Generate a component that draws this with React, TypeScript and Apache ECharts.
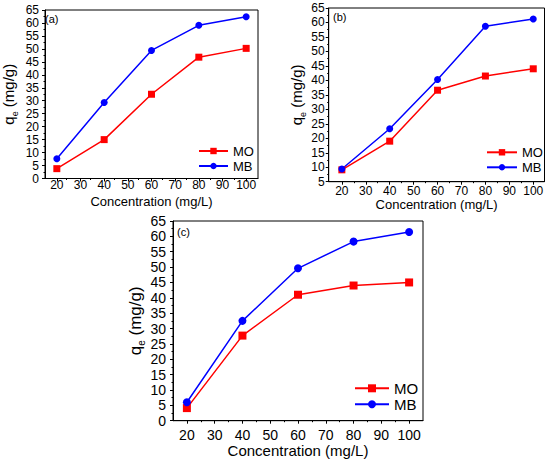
import React, { useEffect, useRef } from "react";
import * as echarts from "echarts";

const concentrations = [20, 40, 60, 80, 100];
const moA = [3.8, 15.0, 32.5, 46.8, 50.2];
const mbA = [7.6, 29.3, 49.4, 59.1, 62.4];
const moB = [9.1, 19.0, 36.6, 41.5, 44.0];
const mbB = [9.4, 23.3, 40.3, 58.7, 61.2];
const moC = [4.1, 27.7, 41.0, 44.0, 45.0];
const mbC = [6.0, 32.5, 49.6, 58.3, 61.4];
const xTickValues = [20, 30, 40, 50, 60, 70, 80, 90, 100];
const xMinorValues = [25, 35, 45, 55, 65, 75, 85, 95];
const panelLabels = ["(a)", "(b)", "(c)"];
const seriesNames = ["MO", "MB"];

const FONT = "Liberation Sans, Arial, sans-serif";
const RED = "#ff0000";
const BLUE = "#0000ff";

const pairs = (ys: number[]) => concentrations.map((x, i) => [x, ys[i]]);

const panels = [
  {
    grid: { left: 42, top: 10, width: 216, height: 168.5 },
    xMin: 15, xMax: 105, yMin: 0, yMax: 65,
    tickFont: 12, nameFont: 13, yNameFont: 15,
    xLabelMargin: 0, xNameGap: 16.5, yLabelMargin: 6, yNameGap: 26,
    legend: { left: 198, top: 144.5, itemWidth: 29, itemHeight: 8, fontSize: 13, itemGap: 2 },
    label: { x: 45, y: 18.5 },
    mo: moA, mb: mbA, sym: 7,
  },
  {
    grid: { left: 328.7, top: 8, width: 215.8, height: 173.7 },
    xMin: 14.5, xMax: 104.7, yMin: 5, yMax: 65,
    tickFont: 12, nameFont: 13, yNameFont: 15,
    xLabelMargin: 3, xNameGap: 12.5, yLabelMargin: 4, yNameGap: 20,
    legend: { left: 486, top: 145.8, itemWidth: 30, itemHeight: 8, fontSize: 13, itemGap: 2 },
    label: { x: 333, y: 17 },
    mo: moB, mb: mbB, sym: 7,
  },
  {
    grid: { left: 173, top: 221, width: 250, height: 199.7 },
    xMin: 15, xMax: 105, yMin: 0, yMax: 65,
    tickFont: 14, nameFont: 15, yNameFont: 17,
    xLabelMargin: 7, xNameGap: 17.5, yLabelMargin: 7, yNameGap: 25,
    legend: { left: 354, top: 380.8, itemWidth: 34, itemHeight: 10, fontSize: 15, itemGap: 1 },
    label: { x: 177, y: 232 },
    mo: moC, mb: mbC, sym: 8,
  },
];

function buildOption() {
  const grids: any[] = [];
  const xAxes: any[] = [];
  const yAxes: any[] = [];
  const series: any[] = [];
  const legends: any[] = [];
  const graphics: any[] = [];

  panels.forEach((p, i) => {
    grids.push({
      ...p.grid,
      show: true,
      borderColor: "#000",
      borderWidth: 1,
      backgroundColor: "transparent",
    });
    xAxes.push({
      type: "value",
      gridIndex: i,
      min: p.xMin,
      max: p.xMax,
      name: "Concentration (mg/L)",
      nameLocation: "middle",
      nameGap: p.xNameGap,
      nameTextStyle: { fontSize: p.nameFont, color: "#000", fontFamily: FONT },
      axisLine: { show: true, onZero: false, lineStyle: { color: "#000", width: 1 } },
      axisTick: { show: true, inside: false, length: 3, customValues: xTickValues, lineStyle: { color: "#000" } },
      axisLabel: { customValues: xTickValues, fontSize: p.tickFont, color: "#000", margin: p.xLabelMargin, fontFamily: FONT },
      splitLine: { show: false },
    });
    yAxes.push({
      type: "value",
      gridIndex: i,
      min: p.yMin,
      max: p.yMax,
      interval: 5,
      name: "{a|q}{b|e}{a| (mg/g)}",
      nameLocation: "middle",
      nameGap: p.yNameGap,
      nameTextStyle: {
        color: "#000",
        fontFamily: FONT,
        fontSize: p.yNameFont,
        rich: {
          a: { fontSize: p.yNameFont, lineHeight: p.yNameFont + 6, fontFamily: FONT, color: "#000" },
          b: { fontSize: Math.round(p.yNameFont * 0.6), lineHeight: Math.round(p.yNameFont * 0.6), verticalAlign: "bottom", fontFamily: FONT, color: "#000" },
        },
      },
      axisLine: { show: true, onZero: false, lineStyle: { color: "#000", width: 1 } },
      axisTick: { show: true, inside: false, length: 3, lineStyle: { color: "#000" } },
      minorTick: { show: true, splitNumber: 2, length: 1.5, lineStyle: { color: "#000" } },
      axisLabel: { fontSize: p.tickFont, color: "#000", margin: p.yLabelMargin, fontFamily: FONT },
      splitLine: { show: false },
      minorSplitLine: { show: false },
    });
    series.push({
      type: "line",
      name: seriesNames[0],
      xAxisIndex: i,
      yAxisIndex: i,
      data: pairs(p.mo),
      symbol: "rect",
      symbolSize: p.sym,
      color: RED,
      lineStyle: { color: RED, width: 1.5 },
      itemStyle: { color: RED },
    });
    series.push({
      type: "line",
      name: seriesNames[1],
      xAxisIndex: i,
      yAxisIndex: i,
      data: pairs(p.mb),
      symbol: "circle",
      symbolSize: p.sym,
      color: BLUE,
      lineStyle: { color: BLUE, width: 1.5 },
      itemStyle: { color: BLUE },
    });
    legends.push({
      show: true,
      orient: "vertical",
      left: p.legend.left,
      top: p.legend.top,
      padding: 0,
      itemWidth: p.legend.itemWidth,
      itemHeight: p.legend.itemHeight,
      itemGap: p.legend.itemGap,
      data: seriesNames,
      selectedMode: false,
      textStyle: { fontSize: p.legend.fontSize, color: "#000", fontFamily: FONT },
    });
    graphics.push({
      type: "text",
      x: p.label.x,
      y: p.label.y,
      style: { text: panelLabels[i], fontSize: 11, fontFamily: FONT, fill: "#000", verticalAlign: "middle" },
    });
  });

  // overlay grids for the short minor ticks on the x axes
  panels.forEach((p, i) => {
    const gi = panels.length + i;
    grids.push({ ...p.grid, show: false });
    xAxes.push({
      type: "value",
      gridIndex: gi,
      min: p.xMin,
      max: p.xMax,
      axisLine: { show: false, onZero: false },
      axisTick: { show: true, inside: false, length: 1.5, customValues: xMinorValues, lineStyle: { color: "#000" } },
      axisLabel: { show: false },
      splitLine: { show: false },
    });
    yAxes.push({ type: "value", gridIndex: gi, min: 0, max: 1, show: false });
  });

  return {
    animation: false,
    backgroundColor: "#fff",
    textStyle: { fontFamily: FONT, color: "#000" },
    grid: grids,
    xAxis: xAxes,
    yAxis: yAxes,
    legend: legends,
    series,
    graphic: graphics,
  };
}

export default function App() {
  const ref = useRef<HTMLDivElement>(null);
  useEffect(() => {
    if (!ref.current) return;
    const chart = echarts.init(ref.current, undefined, { renderer: "svg" });
    chart.setOption(buildOption() as any);
    return () => chart.dispose();
  }, []);
  return (
    <div
      ref={ref}
      style={{ position: "fixed", left: 0, top: 0, width: 550, height: 460, background: "#fff" }}
    />
  );
}
